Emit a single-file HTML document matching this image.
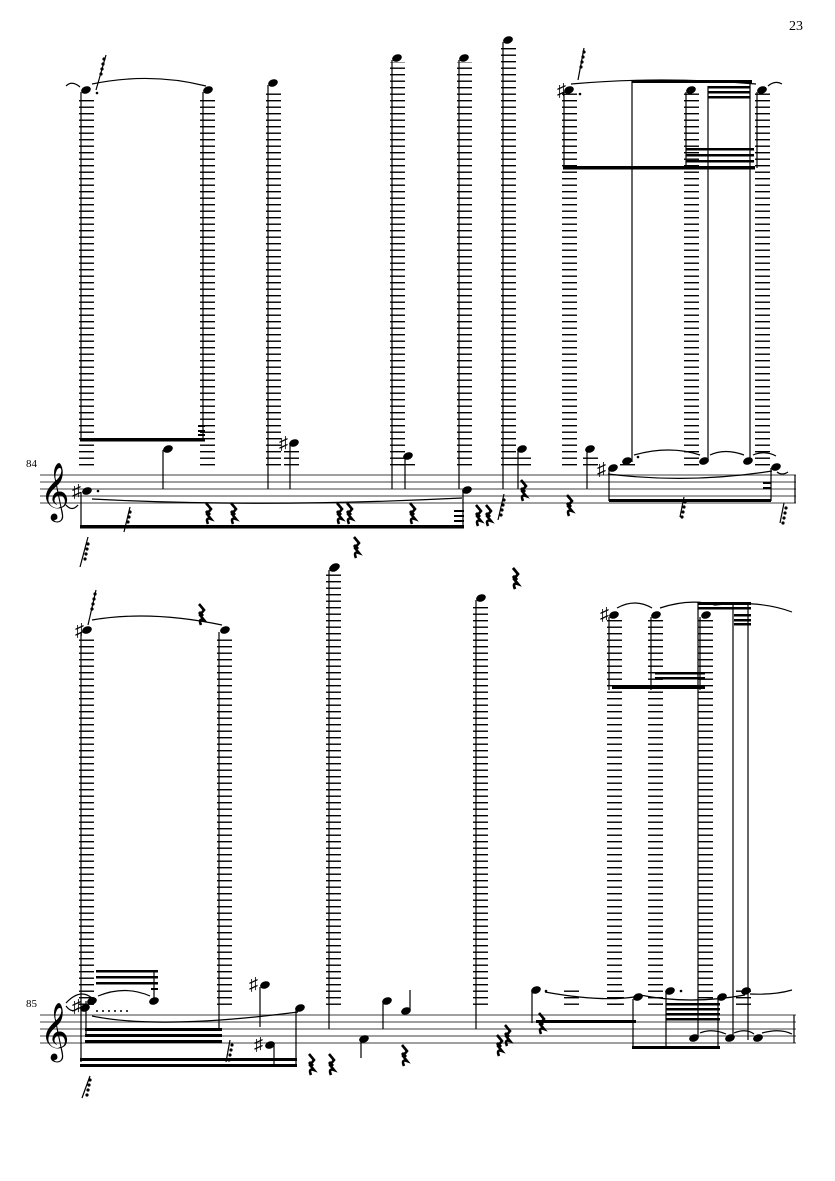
<!DOCTYPE html>
<html><head><meta charset="utf-8"><style>
html,body{margin:0;padding:0;background:#fff;}
svg{display:block;}
text{font-family:"Liberation Serif",serif;}
</style></head><body>
<svg width="835" height="1181" viewBox="0 0 835 1181" xmlns="http://www.w3.org/2000/svg">
<defs>
<pattern id="led" x="0" y="0" width="20" height="6.5" patternUnits="userSpaceOnUse">
<rect x="0" y="2.5" width="20" height="1.4" fill="#000"/>
</pattern>
<g id="r"><path d="M3 0 L8 6 L4 11 L8 16 Q2 14 5 21" stroke="#000" stroke-width="2.6" fill="none"/><path d="M3 8 L7 12" stroke="#000" stroke-width="3"/></g>
<g id="g32" fill="#000"><circle cx="6" cy="4" r="1.6"/><circle cx="5" cy="9" r="1.6"/><circle cx="4" cy="14" r="1.6"/><circle cx="3" cy="19" r="1.6"/></g>
</defs>
<text x="803" y="30" font-size="14" text-anchor="end">23</text>

<g stroke="#666" stroke-width="1.2">
<line x1="40" y1="475" x2="796" y2="475"/><line x1="40" y1="482" x2="796" y2="482"/>
<line x1="40" y1="489" x2="796" y2="489"/><line x1="40" y1="496" x2="796" y2="496"/>
<line x1="40" y1="503" x2="796" y2="503"/>
</g>
<text x="26" y="467" font-size="11">84</text>
<text x="40" y="508" font-size="50">𝄞</text>
<g fill="url(#led)">
<rect x="79" y="96" width="15" height="374"/>
<rect x="200" y="96" width="15" height="374"/>
<rect x="266" y="90" width="15" height="380"/>
<rect x="390" y="62" width="15" height="408"/>
<rect x="457" y="62" width="15" height="408"/>
<rect x="501" y="44" width="15" height="426"/>
<rect x="562" y="93" width="15" height="377"/>
<rect x="684" y="93" width="15" height="377"/>
<rect x="755" y="93" width="15" height="377"/>
<rect x="284" y="448" width="15" height="22"/>
<rect x="400" y="460" width="15" height="10"/>
<rect x="516" y="454" width="15" height="16"/>
<rect x="583" y="454" width="15" height="16"/>
<rect x="620" y="464" width="15" height="6"/>
</g>
<g fill="#000">
<ellipse cx="86" cy="90" rx="5" ry="3.6" transform="rotate(-20 86 90)"/>
<ellipse cx="208" cy="90" rx="5" ry="3.6" transform="rotate(-20 208 90)"/>
<ellipse cx="273" cy="83" rx="5" ry="3.6" transform="rotate(-20 273 83)"/>
<ellipse cx="397" cy="58" rx="5" ry="3.6" transform="rotate(-20 397 58)"/>
<ellipse cx="464" cy="58" rx="5" ry="3.6" transform="rotate(-20 464 58)"/>
<ellipse cx="508" cy="40" rx="5" ry="3.6" transform="rotate(-20 508 40)"/>
<ellipse cx="569" cy="90" rx="5" ry="3.6" transform="rotate(-20 569 90)"/>
<ellipse cx="691" cy="90" rx="5" ry="3.6" transform="rotate(-20 691 90)"/>
<ellipse cx="762" cy="90" rx="5" ry="3.6" transform="rotate(-20 762 90)"/>
<circle cx="97" cy="93" r="1.3"/><circle cx="580" cy="94" r="1.3"/>
<ellipse cx="87" cy="491" rx="5" ry="3.6" transform="rotate(-20 87 491)"/>
<circle cx="98" cy="491" r="1.3"/>
<ellipse cx="168" cy="449" rx="5" ry="3.6" transform="rotate(-20 168 449)"/>
<ellipse cx="294" cy="443" rx="5" ry="3.6" transform="rotate(-20 294 443)"/>
<ellipse cx="408" cy="456" rx="5" ry="3.6" transform="rotate(-20 408 456)"/>
<ellipse cx="467" cy="490" rx="5" ry="3.6" transform="rotate(-20 467 490)"/>
<ellipse cx="522" cy="449" rx="5" ry="3.6" transform="rotate(-20 522 449)"/>
<ellipse cx="590" cy="449" rx="5" ry="3.6" transform="rotate(-20 590 449)"/>
<ellipse cx="613" cy="468" rx="5" ry="3.6" transform="rotate(-20 613 468)"/>
<ellipse cx="627" cy="461" rx="5" ry="3.6" transform="rotate(-20 627 461)"/>
<circle cx="638" cy="457" r="1.3"/>
<ellipse cx="704" cy="461" rx="5" ry="3.6" transform="rotate(-20 704 461)"/>
<ellipse cx="748" cy="461" rx="5" ry="3.6" transform="rotate(-20 748 461)"/>
<ellipse cx="776" cy="467" rx="5" ry="3.6" transform="rotate(-20 776 467)"/>
<ellipse cx="335" cy="567" rx="5" ry="3.6" transform="rotate(-20 335 567)"/>
<rect x="80" y="438" width="125" height="3.5"/>
<rect x="80" y="525" width="384" height="3.5"/>
<rect x="563" y="166" width="192" height="3.5"/>
<rect x="632" y="80" width="120" height="3"/>
<rect x="708" y="86" width="42" height="2.5"/><rect x="708" y="91" width="42" height="2.5"/><rect x="708" y="96" width="42" height="2.5"/>
<rect x="686" y="148" width="68" height="2.5"/><rect x="686" y="154" width="68" height="2.5"/><rect x="686" y="160" width="68" height="2.5"/>
<rect x="609" y="499" width="162" height="3"/>
<rect x="198" y="425" width="7" height="2"/><rect x="198" y="430" width="7" height="2"/><rect x="198" y="434" width="7" height="2"/>
<rect x="454" y="510" width="10" height="2"/><rect x="454" y="515" width="10" height="2"/><rect x="454" y="520" width="10" height="2"/>
<rect x="763" y="482" width="8" height="2"/><rect x="763" y="487" width="8" height="2"/>
</g>
<g stroke="#000" stroke-width="1.2" fill="none">
<line x1="81" y1="92" x2="81" y2="440"/><line x1="203" y1="92" x2="203" y2="440"/>
<line x1="268" y1="85" x2="268" y2="489"/><line x1="392" y1="60" x2="392" y2="489"/>
<line x1="459" y1="60" x2="459" y2="489"/><line x1="503" y1="42" x2="503" y2="489"/>
<line x1="564" y1="92" x2="564" y2="168"/><line x1="686" y1="92" x2="686" y2="168"/>
<line x1="757" y1="92" x2="757" y2="168"/>
<line x1="632" y1="80" x2="632" y2="462"/><line x1="708" y1="86" x2="708" y2="462"/><line x1="750" y1="80" x2="750" y2="462"/>
<line x1="81" y1="492" x2="81" y2="528"/><line x1="163" y1="450" x2="163" y2="489"/>
<line x1="290" y1="444" x2="290" y2="489"/><line x1="405" y1="457" x2="405" y2="489"/>
<line x1="463" y1="491" x2="463" y2="528"/><line x1="518" y1="450" x2="518" y2="489"/>
<line x1="587" y1="450" x2="587" y2="489"/><line x1="609" y1="469" x2="609" y2="501"/>
<line x1="771" y1="468" x2="771" y2="501"/><line x1="795" y1="475" x2="795" y2="503"/>
<path d="M92 499 Q260 508 462 498"/><path d="M92 84 Q150 72 206 86"/>
<path d="M571 84 Q660 76 756 84"/><path d="M608 474 Q690 484 772 471"/>
<path d="M634 455 Q670 445 700 455"/><path d="M710 455 Q725 448 744 455"/>
<path d="M753 455 Q765 450 776 456"/><path d="M66 86 Q72 80 80 87"/><path d="M768 86 Q775 80 782 84"/>
<path d="M66 505 Q72 512 78 505"/><path d="M777 472 Q782 476 788 472"/>
</g>
<g font-size="18" font-family="DejaVu Sans,sans-serif">
<text x="72" y="497">♯</text><text x="279" y="449">♯</text><text x="597" y="475">♯</text><text x="557" y="96">♯</text>
</g>
<use href="#r" x="203" y="503"/><use href="#r" x="228" y="503"/><use href="#r" x="334" y="503"/><use href="#r" x="344" y="503"/>
<use href="#r" x="407" y="503"/><use href="#r" x="473" y="505"/><use href="#r" x="483" y="505"/><use href="#r" x="518" y="480"/>
<use href="#r" x="564" y="495"/><use href="#r" x="351" y="537"/><use href="#r" x="510" y="568"/>

<g stroke="#666" stroke-width="1.2">
<line x1="40" y1="1015" x2="796" y2="1015"/><line x1="40" y1="1022" x2="796" y2="1022"/>
<line x1="40" y1="1029" x2="796" y2="1029"/><line x1="40" y1="1036" x2="796" y2="1036"/>
<line x1="40" y1="1043" x2="796" y2="1043"/>
</g>
<text x="26" y="1007" font-size="11">85</text>
<text x="40" y="1048" font-size="50">𝄞</text>
<g fill="url(#led)">
<rect x="79" y="636" width="15" height="374"/>
<rect x="217" y="636" width="15" height="374"/>
<rect x="326" y="574" width="15" height="436"/>
<rect x="473" y="604" width="15" height="406"/>
<rect x="607" y="620" width="15" height="390"/>
<rect x="648" y="620" width="15" height="390"/>
<rect x="698" y="620" width="15" height="390"/>
<rect x="564" y="990" width="15" height="20"/>
<rect x="609" y="990" width="15" height="20"/>
<rect x="736" y="990" width="15" height="20"/>
</g>
<g fill="#000">
<ellipse cx="87" cy="630" rx="5" ry="3.6" transform="rotate(-20 87 630)"/>
<ellipse cx="225" cy="630" rx="5" ry="3.6" transform="rotate(-20 225 630)"/>
<ellipse cx="334" cy="568" rx="5" ry="3.6" transform="rotate(-20 334 568)"/>
<ellipse cx="481" cy="598" rx="5" ry="3.6" transform="rotate(-20 481 598)"/>
<ellipse cx="614" cy="615" rx="5" ry="3.6" transform="rotate(-20 614 615)"/>
<ellipse cx="656" cy="615" rx="5" ry="3.6" transform="rotate(-20 656 615)"/>
<ellipse cx="706" cy="615" rx="5" ry="3.6" transform="rotate(-20 706 615)"/>
<ellipse cx="85" cy="1008" rx="5" ry="3.6" transform="rotate(-20 85 1008)"/>
<ellipse cx="92" cy="1001" rx="5" ry="3.6" transform="rotate(-20 92 1001)"/>
<ellipse cx="154" cy="1001" rx="5" ry="3.6" transform="rotate(-20 154 1001)"/>
<ellipse cx="265" cy="985" rx="5" ry="3.6" transform="rotate(-20 265 985)"/>
<ellipse cx="270" cy="1045" rx="5" ry="3.6" transform="rotate(-20 270 1045)"/>
<ellipse cx="300" cy="1008" rx="5" ry="3.6" transform="rotate(-20 300 1008)"/>
<ellipse cx="364" cy="1039" rx="5" ry="3.6" transform="rotate(-20 364 1039)"/>
<ellipse cx="387" cy="1001" rx="5" ry="3.6" transform="rotate(-20 387 1001)"/>
<ellipse cx="406" cy="1011" rx="5" ry="3.6" transform="rotate(-20 406 1011)"/>
<ellipse cx="536" cy="990" rx="5" ry="3.6" transform="rotate(-20 536 990)"/>
<ellipse cx="638" cy="997" rx="5" ry="3.6" transform="rotate(-20 638 997)"/>
<ellipse cx="670" cy="991" rx="5" ry="3.6" transform="rotate(-20 670 991)"/>
<ellipse cx="722" cy="997" rx="5" ry="3.6" transform="rotate(-20 722 997)"/>
<ellipse cx="746" cy="991" rx="5" ry="3.6" transform="rotate(-20 746 991)"/>
<ellipse cx="694" cy="1038" rx="5" ry="3.6" transform="rotate(-20 694 1038)"/>
<ellipse cx="730" cy="1038" rx="5" ry="3.6" transform="rotate(-20 730 1038)"/>
<ellipse cx="758" cy="1038" rx="5" ry="3.6" transform="rotate(-20 758 1038)"/>
<circle cx="97" cy="1011" r="1"/><circle cx="103" cy="1011" r="1"/><circle cx="109" cy="1011" r="1"/><circle cx="115" cy="1011" r="1"/><circle cx="121" cy="1011" r="1"/><circle cx="127" cy="1011" r="1"/>
<circle cx="546" cy="991" r="1.3"/><circle cx="681" cy="991" r="1.3"/>
<rect x="85" y="1028" width="137" height="3"/><rect x="85" y="1034" width="137" height="3"/><rect x="85" y="1040" width="137" height="3"/>
<rect x="80" y="1058" width="217" height="3"/><rect x="80" y="1064" width="217" height="3"/>
<rect x="96" y="970" width="62" height="2.5"/><rect x="96" y="976" width="62" height="2.5"/><rect x="96" y="982" width="62" height="2.5"/>
<rect x="151" y="988" width="7" height="2"/>
<rect x="536" y="1020" width="100" height="3"/>
<rect x="632" y="1046" width="88" height="3"/>
<rect x="666" y="1003" width="54" height="2.5"/><rect x="666" y="1008" width="54" height="2.5"/><rect x="666" y="1013" width="54" height="2.5"/><rect x="666" y="1018" width="54" height="2.5"/>
<rect x="612" y="685" width="93" height="4"/>
<rect x="655" y="672" width="50" height="2.5"/><rect x="655" y="677" width="50" height="2.5"/>
<rect x="698" y="602" width="53" height="3"/><rect x="698" y="607" width="53" height="2.5"/>
<rect x="734" y="614" width="17" height="2.5"/><rect x="734" y="619" width="17" height="2.5"/><rect x="734" y="623" width="17" height="2.5"/>
</g>
<g stroke="#000" stroke-width="1.2" fill="none">
<line x1="81" y1="632" x2="81" y2="1062"/><line x1="219" y1="632" x2="219" y2="1030"/>
<line x1="329" y1="570" x2="329" y2="1029"/><line x1="476" y1="600" x2="476" y2="1029"/>
<line x1="609" y1="617" x2="609" y2="690"/><line x1="651" y1="617" x2="651" y2="690"/>
<line x1="700" y1="617" x2="700" y2="690"/>
<line x1="698" y1="602" x2="698" y2="1003"/><line x1="733" y1="602" x2="733" y2="1040"/><line x1="748" y1="602" x2="748" y2="1040"/>
<line x1="86" y1="1001" x2="86" y2="1036"/><line x1="154" y1="972" x2="154" y2="1001"/>
<line x1="260" y1="987" x2="260" y2="1027"/><line x1="274" y1="1044" x2="274" y2="1066"/>
<line x1="296" y1="1009" x2="296" y2="1066"/><line x1="361" y1="1040" x2="361" y2="1058"/>
<line x1="383" y1="1003" x2="383" y2="1029"/><line x1="410" y1="1010" x2="410" y2="990"/>
<line x1="532" y1="991" x2="532" y2="1023"/><line x1="633" y1="999" x2="633" y2="1049"/>
<line x1="666" y1="993" x2="666" y2="1049"/><line x1="718" y1="999" x2="718" y2="1049"/>
<line x1="698" y1="1037" x2="698" y2="1003"/><line x1="794" y1="1015" x2="794" y2="1043"/>
<path d="M92 1016 Q160 1030 298 1012"/><path d="M98 996 Q125 985 150 996"/>
<path d="M92 620 Q150 610 222 625"/><path d="M617 608 Q635 598 652 608"/>
<path d="M660 608 Q690 598 715 605 Q760 600 792 612"/>
<path d="M545 992 Q600 1002 634 997"/><path d="M640 995 Q690 1005 745 995"/><path d="M750 994 Q775 995 792 990"/>
<path d="M700 1033 Q712 1028 726 1034"/><path d="M734 1033 Q746 1028 754 1034"/><path d="M762 1033 Q780 1028 792 1034"/>
<path d="M66 1003 Q80 988 92 998"/><path d="M66 1006 Q72 1014 78 1008"/>
</g>
<g font-size="18" font-family="DejaVu Sans,sans-serif">
<text x="72" y="1012">♯</text><text x="249" y="990">♯</text><text x="254" y="1050">♯</text><text x="600" y="620">♯</text><text x="75" y="636">♯</text>
</g>
<use href="#r" x="306" y="1054"/><use href="#r" x="326" y="1054"/><use href="#r" x="399" y="1045"/>
<use href="#r" x="494" y="1035"/><use href="#r" x="502" y="1025"/><use href="#r" x="536" y="1013"/>
<use href="#r" x="196" y="604"/><use href="#r" x="510" y="568"/>
<g stroke="#000" stroke-width="1.2">
<line x1="124" y1="532" x2="130" y2="507"/><line x1="80" y1="567" x2="88" y2="537"/>
<line x1="498" y1="520" x2="504" y2="494"/><line x1="680" y1="517" x2="684" y2="497"/>
<line x1="780" y1="523" x2="784" y2="503"/><line x1="96" y1="90" x2="106" y2="55"/>
<line x1="578" y1="80" x2="584" y2="48"/><line x1="82" y1="1098" x2="90" y2="1076"/>
<line x1="226" y1="1062" x2="230" y2="1040"/><line x1="88" y1="625" x2="96" y2="590"/>
</g>
<use href="#g32" x="124" y="508"/><use href="#g32" x="82" y="540"/><use href="#g32" x="498" y="496"/>
<use href="#g32" x="679" y="498"/><use href="#g32" x="780" y="504"/><use href="#g32" x="98" y="55"/>
<use href="#g32" x="578" y="48"/><use href="#g32" x="84" y="1076"/><use href="#g32" x="226" y="1041"/><use href="#g32" x="89" y="590"/>
</svg>
</body></html>
